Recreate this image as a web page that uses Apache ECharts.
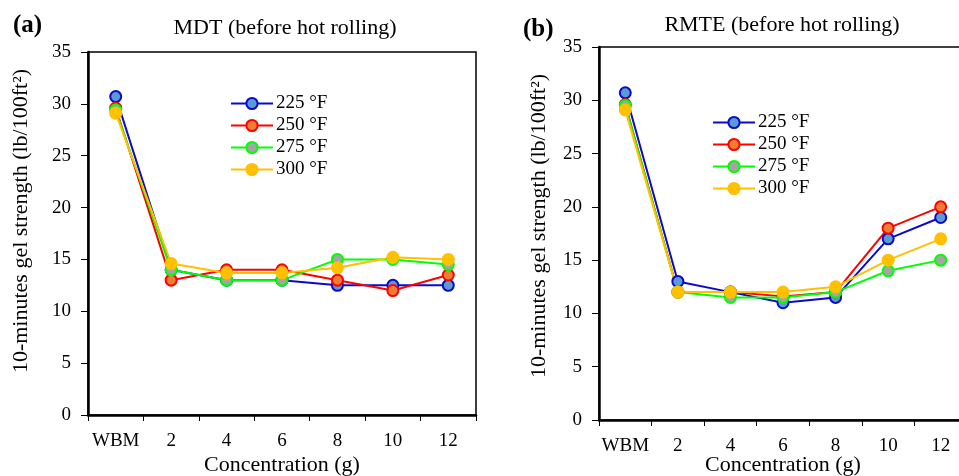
<!DOCTYPE html>
<html>
<head>
<meta charset="utf-8">
<script src="https://cdn.jsdelivr.net/npm/echarts@6/dist/echarts.min.js"></script>
<style>
  html, body { margin: 0; padding: 0; background: #fff; }
  #chart { width: 959px; height: 476px; }
</style>
</head>
<body>
<div id="chart"></div>
<script>
  // categories and values
  var categories = ['WBM', '2', '4', '6', '8', '10', '12'];
  var seriesNames = ['225 °F', '250 °F', '275 °F', '300 °F'];

  // (a) MDT
  var mdt225 = [30.7, 14.0, 13.0, 13.0, 12.5, 12.5, 12.5];
  var mdt250 = [29.6, 13.0, 14.0, 14.0, 13.0, 12.0, 13.5];
  var mdt275 = [29.4, 14.0, 13.0, 13.0, 15.0, 15.0, 14.5];
  var mdt300 = [29.1, 14.6, 13.7, 13.7, 14.2, 15.2, 15.0];

  // (b) RMTE
  var rmte225 = [30.7, 13.0, 12.0, 11.0, 11.5, 17.0, 19.0];
  var rmte250 = [29.6, 12.0, 12.0, 11.6, 12.0, 18.0, 20.0];
  var rmte275 = [29.5, 12.0, 11.5, 11.5, 12.0, 14.0, 15.0];
  var rmte300 = [29.1, 12.0, 12.0, 12.0, 12.5, 15.0, 17.0];

  var lineColors = ['#0A0AC8', '#FF0000', '#00FF00', '#FFC000'];
  var fillColors = ['#5B9BD5', '#ED7D31', '#A5A5A5', '#FFC000'];

  var fontFamily = '"Liberation Serif", "Times New Roman", serif';
  var yName = '10-minutes gel strength (lb/100ft²)';
  var xName = 'Concentration (g)';

  function makeSeries(name, idx, data, axisIndex) {
    return {
      name: name,
      type: 'line',
      xAxisIndex: axisIndex,
      yAxisIndex: axisIndex,
      data: data,
      symbol: 'circle',
      symbolSize: 11,
      lineStyle: { color: lineColors[idx], width: 2 },
      itemStyle: { color: fillColors[idx], borderColor: lineColors[idx], borderWidth: 2 },
      emphasis: { disabled: true },
      animation: false
    };
  }

  function xAxisCfg(gridIndex) {
    return {
      type: 'category',
      gridIndex: gridIndex,
      data: categories,
      axisLine: { lineStyle: { color: '#000', width: 2.5 } },
      axisTick: { show: true, length: 6, lineStyle: { color: '#000', width: 1 } },
      axisLabel: { color: '#000', fontSize: 19, fontFamily: fontFamily, margin: 17, interval: 0 },
      splitLine: { show: false }
    };
  }

  function yAxisCfg(gridIndex) {
    return {
      type: 'value',
      gridIndex: gridIndex,
      min: 0,
      max: 35,
      interval: 5,
      axisLine: { show: true, lineStyle: { color: '#000', width: 2.5 } },
      axisTick: { show: true, length: 7, lineStyle: { color: '#000', width: 1 } },
      axisLabel: { color: '#000', fontSize: 19, fontFamily: fontFamily, margin: 17 },
      splitLine: { show: false }
    };
  }

  function legendCfg(left, top) {
    return {
      orient: 'vertical',
      left: left,
      top: top,
      itemWidth: 42,
      itemHeight: 14,
      itemGap: 3,
      data: seriesNames,
      textStyle: { color: '#000', fontSize: 19, fontFamily: fontFamily, padding: [0, 0, 0, -2] },
      selectedMode: false
    };
  }

  function label(text, x, y, size, extra) {
    var t = { type: 'text', x: x, y: y, style: { text: text, fontSize: size, fontFamily: fontFamily, fill: '#000', align: 'center', verticalAlign: 'middle' } };
    if (extra) {
      for (var k in extra) { t[k] = extra[k]; }
    }
    return t;
  }

  var chart = echarts.init(document.getElementById('chart'));

  var option = {
    backgroundColor: '#fff',
    animation: false,
    grid: [
      { left: 88, top: 52, width: 388, height: 363, outerBoundsMode: 'none', show: true, borderColor: '#000', borderWidth: 1.5, backgroundColor: 'transparent' },
      { left: 599, top: 47, width: 368, height: 373, outerBoundsMode: 'none', show: true, borderColor: '#000', borderWidth: 1.5, backgroundColor: 'transparent' }
    ],
    xAxis: [xAxisCfg(0), xAxisCfg(1)],
    yAxis: [yAxisCfg(0), yAxisCfg(1)],
    legend: [legendCfg(225, 89), legendCfg(707, 108)],
    graphic: [
      { type: 'text', left: 13, top: 13, style: { text: '(a)', fontSize: 25, fontWeight: 'bold', fontFamily: fontFamily, fill: '#000' } },
      { type: 'text', left: 523, top: 17, style: { text: '(b)', fontSize: 25, fontWeight: 'bold', fontFamily: fontFamily, fill: '#000' } },
      label('MDT (before hot rolling)', 285, 28, 22),
      label('RMTE (before hot rolling)', 782, 25, 22),
      label(yName, 21, 221, 22, { rotation: Math.PI / 2 }),
      label(yName, 539, 226, 22, { rotation: Math.PI / 2 }),
      label(xName, 282, 465, 22),
      label(xName, 783, 465, 22)
    ],
    series: [
      makeSeries(seriesNames[0], 0, mdt225, 0),
      makeSeries(seriesNames[1], 1, mdt250, 0),
      makeSeries(seriesNames[2], 2, mdt275, 0),
      makeSeries(seriesNames[3], 3, mdt300, 0),
      makeSeries(seriesNames[0], 0, rmte225, 1),
      makeSeries(seriesNames[1], 1, rmte250, 1),
      makeSeries(seriesNames[2], 2, rmte275, 1),
      makeSeries(seriesNames[3], 3, rmte300, 1)
    ]
  };

  chart.setOption(option);
</script>
</body>
</html>
